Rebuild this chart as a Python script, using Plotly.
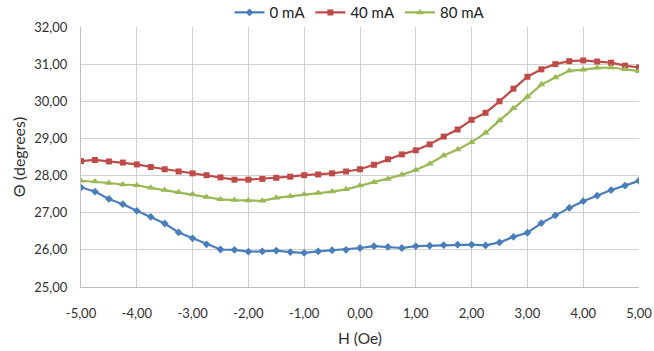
import plotly.graph_objects as go

H = [-5 + 0.25 * i for i in range(41)]

ma0 = [27.68, 27.57, 27.37, 27.23, 27.05, 26.89, 26.71, 26.47, 26.31, 26.15,
       26.01, 26.00, 25.95, 25.96, 25.98, 25.94, 25.92, 25.96, 25.99, 26.00,
       26.05, 26.10, 26.08, 26.05, 26.10, 26.11, 26.13, 26.14, 26.14, 26.12,
       26.20, 26.35, 26.46, 26.72, 26.93, 27.13, 27.31, 27.46, 27.61, 27.73, 27.86]

ma40 = [28.39, 28.42, 28.38, 28.35, 28.30, 28.23, 28.17, 28.11, 28.06, 28.01,
        27.95, 27.89, 27.89, 27.91, 27.94, 27.97, 28.01, 28.03, 28.06, 28.11,
        28.17, 28.29, 28.44, 28.57, 28.68, 28.84, 29.05, 29.24, 29.50, 29.69,
        30.00, 30.34, 30.66, 30.86, 31.00, 31.08, 31.10, 31.07, 31.04, 30.96, 30.91]

ma80 = [27.86, 27.84, 27.80, 27.76, 27.74, 27.67, 27.61, 27.55, 27.50, 27.42,
        27.36, 27.34, 27.33, 27.32, 27.40, 27.44, 27.50, 27.53, 27.57, 27.63,
        27.73, 27.82, 27.91, 28.02, 28.15, 28.32, 28.54, 28.70, 28.90, 29.15,
        29.48, 29.81, 30.12, 30.45, 30.64, 30.82, 30.85, 30.90, 30.91, 30.86, 30.81]

x_ticks = [-5, -4, -3, -2, -1, 0, 1, 2, 3, 4, 5]
x_labels = ["-5,00", "-4,00", "-3,00", "-2,00", "-1,00", "0,00",
            "1,00", "2,00", "3,00", "4,00", "5,00"]
y_ticks = [25, 26, 27, 28, 29, 30, 31, 32]
y_labels = ["25,00", "26,00", "27,00", "28,00", "29,00", "30,00", "31,00", "32,00"]

series = [
    ("0 mA", ma0, "#4A7EBB", "diamond", 6),
    ("40 mA", ma40, "#BE4B48", "square", 6),
    ("80 mA", ma80, "#98B954", "triangle-up", 7),
]

fig = go.Figure()
for name, vals, col, sym, sz in series:
    fig.add_trace(go.Scatter(
        x=H, y=vals, name=name, mode="lines+markers",
        line=dict(color=col, width=2.2),
        marker=dict(symbol=sym, size=sz, color=col),
    ))

font = "Lato, Open Sans, sans-serif"
fig.update_layout(
    width=654, height=351,
    margin=dict(l=81, r=15, t=27, b=64, autoexpand=False),
    paper_bgcolor="white", plot_bgcolor="white",
    font=dict(family=font, size=13, color="#404040"),
    showlegend=True,
    legend=dict(orientation="h", x=0.5, xanchor="center", y=1.055, yanchor="middle",
                font=dict(size=15, color="#202020"), itemwidth=30,
                traceorder="normal", tracegroupgap=0, borderwidth=0,
                bgcolor="rgba(0,0,0,0)"),
    xaxis=dict(range=[-5, 5], tickvals=x_ticks, ticktext=x_labels,
               showgrid=True, gridcolor="#D0D0D0", gridwidth=1,
               showline=True, linecolor="#BFBFBF", linewidth=1,
               zeroline=False, ticks="", ticklabelstandoff=14,
               title=dict(text="H (Oe)", font=dict(size=15.5, color="#303030"), standoff=13),
               tickfont=dict(size=13, color="#303030")),
    yaxis=dict(range=[25, 32], tickvals=y_ticks, ticktext=y_labels,
               showgrid=True, gridcolor="#D0D0D0", gridwidth=1,
               showline=True, linecolor="#BFBFBF", linewidth=1,
               zeroline=False, ticks="", ticklabelstandoff=10,
               title=dict(text="Θ (degrees)", font=dict(size=16, color="#303030"), standoff=4),
               tickfont=dict(size=13, color="#303030")),
)

fig.write_html("out.html")
